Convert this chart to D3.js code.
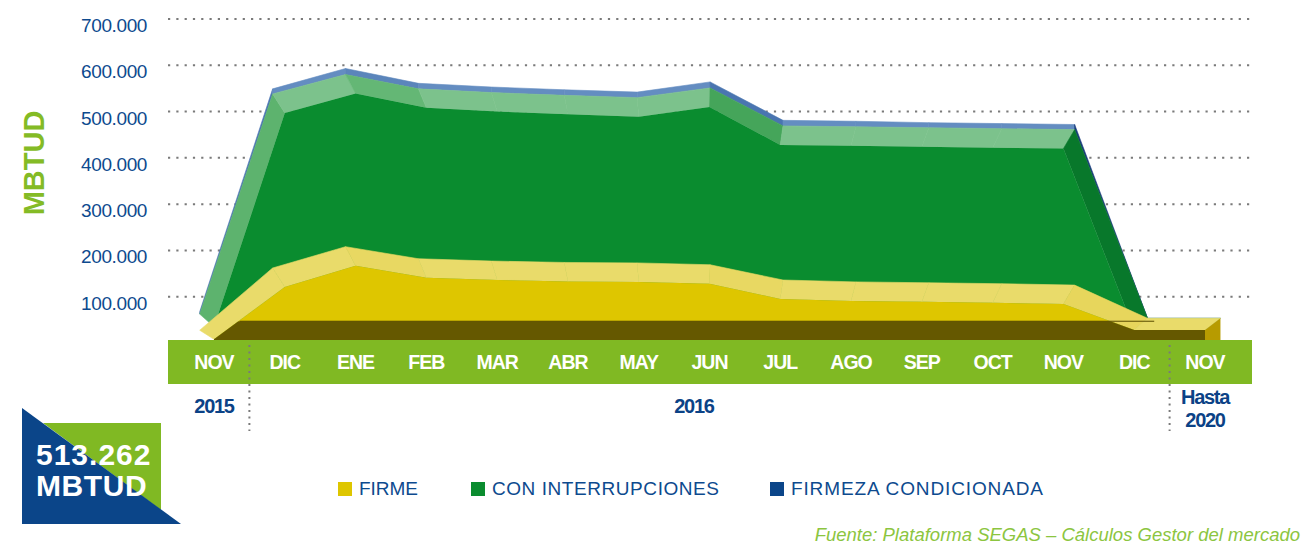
<!DOCTYPE html>
<html>
<head>
<meta charset="utf-8">
<script src="https://cdn.jsdelivr.net/npm/d3@7"></script>
<style>
  body { margin: 0; background: #fff; }
  svg { display: block; font-family: "Liberation Sans", Arial, sans-serif; }
</style>
</head>
<body>
<svg width="1303" height="545"></svg>
<script>
// data (MBTUD)
const months = ['NOV', 'DIC', 'ENE', 'FEB', 'MAR', 'ABR', 'MAY', 'JUN', 'JUL', 'AGO', 'SEP', 'OCT', 'NOV', 'DIC', 'NOV'];
const firme = [8000, 121000, 167000, 141000, 136000, 133000, 132000, 128000, 95000, 91000, 89000, 87000, 84000, 28000, 28000];
const interrupciones = [27000, 376000, 372000, 367000, 364000, 361000, 357000, 382000, 333000, 335000, 335000, 335000, 336000, 0, 0];
const condicionada = [4000, 11000, 13000, 12000, 12000, 12000, 12000, 13000, 12000, 12000, 11000, 11000, 11000, 0, 0];
const yTicks = [100000, 200000, 300000, 400000, 500000, 600000, 700000];
const seriesNames = ['FIRME', 'CON INTERRUPCIONES', 'FIRMEZA CONDICIONADA'];
const seriesColors = ['#dec600', '#0a8c2f', '#0b4589'];
const years = [
  { lines: ['2015'], at: 0 },
  { lines: ['2016'], at: 6.78 },
  { lines: ['Hasta', '2020'], at: 14 },
];
const dividers = [0.5, 13.5];
const totalLabel = ['513.262', 'MBTUD'];
const baseBand = 47000; // dark strip at the foot of the yellow series

const svg = d3.select('svg');
const fmt = d3.formatLocale({ decimal: ',', thousands: '.', grouping: [3] }).format(',');

const x = d3.scalePoint().domain(d3.range(months.length)).range([214, 1205]);
const y = d3.scaleLinear().domain([0, 700000]).range([343, 19]);
const xIdx = d3.scaleLinear().domain([0, months.length - 1]).range([214, 1205]);

// perspective offset of the back edge
function back(p) {
  const t = Math.max(0, Math.min(1, (p[1] - 305) / 38));
  return [p[0] + 0.03 * (p[0] - 690), p[1] - 19 + 11 * t];
}

const lower = firme;
const middle = firme.map((v, i) => v + interrupciones[i]);
const total = middle.map((v, i) => v + condicionada[i]);
const pts = (vals) => vals.map((v, i) => [x(i), y(v)]);

// grid
const grid = svg.append('g');
yTicks.forEach(t => {
  grid.append('line')
    .attr('x1', 168).attr('x2', 1250)
    .attr('y1', y(t)).attr('y2', y(t))
    .attr('stroke', '#7a7a7a').attr('stroke-width', 2)
    .attr('stroke-dasharray', '2.2 6.1');
  grid.append('text')
    .attr('x', 147).attr('y', y(t) + 13)
    .attr('text-anchor', 'end')
    .attr('font-size', 19).attr('letter-spacing', -0.4)
    .attr('fill', '#0d4a8e')
    .text(fmt(t));
});

svg.append('text')
  .attr('transform', 'translate(44,163) rotate(-90)')
  .attr('text-anchor', 'middle')
  .attr('font-size', 29).attr('font-weight', 'bold')
  .attr('fill', '#84bb25')
  .text('MBTUD');

function slopeKey(a, b) {
  const s = (b[1] - a[1]) / (b[0] - a[0]);
  if (s < -1) return 'up';
  if (s <= 0.1) return 'flat';
  if (s <= 0.35) return 'mild';
  if (s <= 1) return 'down';
  return 'steep';
}

const shades = {
  blue: { up: '#4d76b3', flat: '#648dc1', mild: '#5b85bb', down: '#4a75b0', steep: '#173a7b' },
  green: { up: '#5db36e', flat: '#7cc28c', mild: '#64b775', down: '#45a55a', steep: '#08782b' },
  yellow: { up: '#ece07c', flat: '#e9db6a', mild: '#e8d862', down: '#e7d65c', steep: '#e4cf45' },
};

// band between a front line and its back edge
function topFaces(g, front, rear, pal) {
  for (let i = 0; i < front.length - 1; i++) {
    const a = front[i], b = front[i + 1];
    g.append('path')
      .attr('d', d3.line()([a, b, rear[i + 1], rear[i]]) + 'Z')
      .attr('fill', pal[slopeKey(a, b)])
      .attr('stroke', pal[slopeKey(a, b)]).attr('stroke-width', 0.6);
  }
}

const chart = svg.append('g');
const area = d3.area().x(d => d[0]).y0(y(0)).y1(d => d[1]);

// blue: thin strip on top of the green back edge
const midBack = pts(middle).map(back);
const totBack = pts(total).map(back);
topFaces(chart, midBack, totBack, shades.blue);

// green
const midFront = pts(middle);
topFaces(chart, midFront, midBack, shades.green);
chart.append('path').attr('d', area(midFront)).attr('fill', seriesColors[1]);

// yellow
const lowFront = pts(lower);
const lowBack = lowFront.map(back);
topFaces(chart, lowFront, lowBack, shades.yellow);
chart.append('path').attr('d', area(lowFront)).attr('fill', seriesColors[0]);

// right end face of yellow
const endF = lowFront[lowFront.length - 1];
const endB = lowBack[lowBack.length - 1];
chart.append('path')
  .attr('d', d3.line()([endF, endB, [endB[0], y(0) - 3], [endF[0], y(0) - 3]]) + 'Z')
  .attr('fill', '#b79b00');

// dark foot strip
svg.append('clipPath').attr('id', 'foot')
  .append('rect').attr('x', 0).attr('width', 1303)
  .attr('y', y(baseBand)).attr('height', y(0) - y(baseBand));
chart.append('path')
  .attr('d', area(lowFront))
  .attr('clip-path', 'url(#foot)')
  .attr('fill', '#655800');
chart.append('line')
  .attr('x1', x(1) - 45).attr('x2', x(months.length - 2) + 20)
  .attr('y1', y(baseBand)).attr('y2', y(baseBand))
  .attr('stroke', '#5a4d00').attr('stroke-width', 1);

// month band
svg.append('rect')
  .attr('x', 168).attr('y', 340)
  .attr('width', 1084).attr('height', 44)
  .attr('fill', '#80b923');

svg.append('g').selectAll('text')
  .data(months)
  .join('text')
  .attr('x', (d, i) => x(i))
  .attr('y', 369)
  .attr('text-anchor', 'middle')
  .attr('font-size', 19.5).attr('font-weight', 'bold')
  .attr('letter-spacing', -1)
  .attr('fill', '#fff')
  .text(d => d);

dividers.forEach(d => {
  svg.append('line')
    .attr('x1', xIdx(d)).attr('x2', xIdx(d))
    .attr('y1', 345).attr('y2', 431)
    .attr('stroke', '#7a7a7a').attr('stroke-width', 2)
    .attr('stroke-dasharray', '2 4.5');
});

years.forEach(yr => {
  const t = svg.append('text')
    .attr('x', xIdx(yr.at))
    .attr('text-anchor', 'middle')
    .attr('font-size', 20).attr('font-weight', 'bold')
    .attr('letter-spacing', -1.3)
    .attr('fill', '#0b4286');
  yr.lines.forEach((l, i) => {
    t.append('tspan')
      .attr('x', xIdx(yr.at))
      .attr('y', (yr.lines.length > 1 ? 404 : 413) + i * 23)
      .text(l);
  });
});

// total box
svg.append('path')
  .attr('d', 'M43,423H161V510Z')
  .attr('fill', '#80b923');
svg.append('path')
  .attr('d', 'M22,408L181,524H22Z')
  .attr('fill', '#0b4589');
totalLabel.forEach((l, i) => {
  svg.append('text')
    .attr('x', 36).attr('y', 465 + i * 31)
    .attr('font-size', 30).attr('font-weight', 'bold')
    .attr('letter-spacing', i ? 0.6 : 1)
    .attr('fill', '#fff')
    .text(l);
});

// legend
const legendX = [338, 471, 770];
const legendW = [59, 227, 252];
seriesNames.forEach((n, i) => {
  svg.append('rect')
    .attr('x', legendX[i]).attr('y', 482)
    .attr('width', 14).attr('height', 14)
    .attr('fill', seriesColors[i]);
  svg.append('text')
    .attr('x', legendX[i] + 21).attr('y', 495)
    .attr('font-size', 19)
    .attr('textLength', legendW[i]).attr('lengthAdjust', 'spacing')
    .attr('fill', '#0d4a8e')
    .text(n);
});

svg.append('text')
  .attr('x', 1300).attr('y', 541)
  .attr('text-anchor', 'end')
  .attr('font-size', 18.5).attr('font-style', 'italic')
  .attr('fill', '#8cc540')
  .text('Fuente: Plataforma SEGAS – Cálculos Gestor del mercado');
</script>
</body>
</html>
